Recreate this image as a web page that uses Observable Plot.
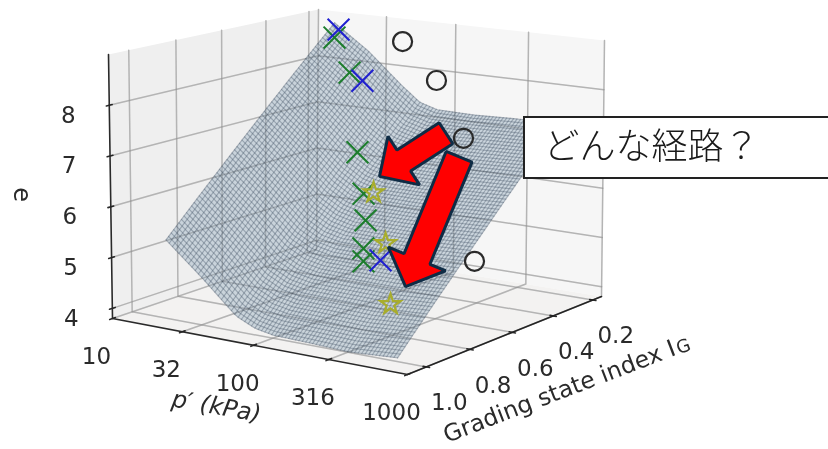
<!doctype html>
<html><head><meta charset="utf-8">
<style>html,body{margin:0;padding:0;background:#fff}svg{display:block;filter:blur(0.55px)}</style>
<script src="https://cdn.jsdelivr.net/npm/d3@7"></script>
<script src="https://cdn.jsdelivr.net/npm/@observablehq/plot@0.6"></script>
</head><body><div id="chart"></div>
<script>
// ---- values ----
const pTicks = [10, 32, 100, 316, 1000];
const pTickLabels = ["10", "32", "100", "316", "1000"];
const igTicks = [1.0, 0.8, 0.6, 0.4, 0.2];
const igTickLabels = ["1.0", "0.8", "0.6", "0.4", "0.2"];
const eTicks = [4, 5, 6, 7, 8];

const surfaceP = [18, 32, 56, 75, 100, 180, 320, 660];
const surfaceIG = [1.0, 0.8, 0.6, 0.4, 0.24];
const surfaceE = [
  [5.35, 4.74, 4.10, 3.93, 3.86, 3.84, 3.81, 3.87],
  [6.28, 5.67, 5.03, 4.84, 4.77, 4.75, 4.74, 4.79],
  [7.21, 6.60, 5.98, 5.76, 5.67, 5.66, 5.66, 5.70],
  [8.14, 7.55, 6.92, 6.67, 6.58, 6.57, 6.59, 6.62],
  [8.88, 8.36, 7.72, 7.42, 7.31, 7.30, 7.33, 7.35]
];

const greenP = 100;
const greenIG = [0.719, 0.652, 0.617, 0.589, 0.580, 0.590, 0.590];
const greenE = [9.32, 8.55, 6.91, 6.04, 5.49, 4.94, 4.68];
const blueP = 100;
const blueIG = [0.701, 0.594, 0.510];
const blueE = [9.46, 8.32, 4.58];
const starP = 100;
const starIG = [0.543, 0.486, 0.462];
const starE = [6.00, 4.89, 3.61];
const circleP = 178;
const circleIG = [0.578, 0.420, 0.289, 0.230];
const circleE = [9.18, 8.22, 6.88, 4.26];

const arrowP = 100;
const arrowTailIG = [0.198, 0.132];
const arrowTailE = [6.77, 6.19];
const arrowTipIG = [0.515, 0.390];
const arrowTipE = [6.29, 3.86];

const calloutText = "どんな経路？";

// ---- limits of the 3D box ----
const pLim = [10, 1000], igLim = [1.084, 0.155], eLim = [3.8, 9.0];

// camera: the eight box corners as they land on the page, with their depth
const W = 828, H = 449;
const floorC = [[112,318],[407,374],[601,296],[316,249]];
const topC = [[108,54],[404,95],[604,40],[318,9]];
const depth = [1.09, 1, 1.08, 1.17];
function proj(p, ig, e) {
  const U = (Math.log10(p) - 1) / 2, V = (igLim[0] - ig) / (igLim[0] - igLim[1]), Z = (e - eLim[0]) / (eLim[1] - eLim[0]);
  const bs = [(1-U)*(1-V), U*(1-V), U*V, (1-U)*V];
  let sx = 0, sy = 0, sw = 0;
  for (let i = 0; i < 4; i++) {
    const b0 = bs[i]*(1-Z)*depth[i], b1 = bs[i]*Z*depth[i];
    sx += b0*floorC[i][0] + b1*topC[i][0];
    sy += b0*floorC[i][1] + b1*topC[i][1];
    sw += b0 + b1;
  }
  return {x: sx/sw, y: sy/sw};
}

// surface lookup: bilinear between the table's entries, used to trace the wireframe
function surf(lp, ig) {
  const lps = surfaceP.map(Math.log10);
  let i = d3.bisectRight(lps, lp) - 1; i = Math.max(0, Math.min(lps.length - 2, i));
  let j = 0; while (j < surfaceIG.length - 2 && ig < surfaceIG[j+1]) j++;
  const s = (lp - lps[i])/(lps[i+1]-lps[i]), t = (surfaceIG[j]-ig)/(surfaceIG[j]-surfaceIG[j+1]);
  return (1-s)*(1-t)*surfaceE[j][i] + s*(1-t)*surfaceE[j][i+1] + (1-s)*t*surfaceE[j+1][i] + s*t*surfaceE[j+1][i+1];
}
const lpA = Math.log10(surfaceP[0]), lpB = Math.log10(surfaceP[surfaceP.length-1]);
const igA = surfaceIG[0], igB = surfaceIG[surfaceIG.length-1];
const nMesh = 68, nStep = 84;
const meshLines = [];
for (let k = 0; k <= nMesh; k++) {
  const f = k/nMesh;
  for (let q = 0; q <= nStep; q++) {
    const g = q/nStep;
    const a = proj(10**(lpA+(lpB-lpA)*f), igA+(igB-igA)*g, surf(lpA+(lpB-lpA)*f, igA+(igB-igA)*g));
    meshLines.push({...a, z: "p"+k});
    const b = proj(10**(lpA+(lpB-lpA)*g), igA+(igB-igA)*f, surf(lpA+(lpB-lpA)*g, igA+(igB-igA)*f));
    meshLines.push({...b, z: "g"+k});
  }
}
const outline = [];
const pushEdge = (fn) => { for (let q = 0; q <= nStep; q++) outline.push(fn(q/nStep)); };
const S = (f, g) => { const lp = lpA+(lpB-lpA)*f, ig = igA+(igB-igA)*g; return proj(10**lp, ig, surf(lp, ig)); };
pushEdge(g => S(g, 0)); pushEdge(g => S(1, g)); pushEdge(g => S(1-g, 1)); pushEdge(g => S(0, 1-g));

// box panes and grid
const pane = (pts, name) => pts.map(q => ({...q, z: name}));
const paneLeft = pane([proj(10,igLim[0],eLim[0]), proj(10,igLim[1],eLim[0]), proj(10,igLim[1],eLim[1]), proj(10,igLim[0],eLim[1])], "l");
const paneRight = pane([proj(10,igLim[1],eLim[0]), proj(1000,igLim[1],eLim[0]), proj(1000,igLim[1],eLim[1]), proj(10,igLim[1],eLim[1])], "r");
const paneFloor = pane([proj(10,igLim[0],eLim[0]), proj(1000,igLim[0],eLim[0]), proj(1000,igLim[1],eLim[0]), proj(10,igLim[1],eLim[0])], "f");

const grid = [];
const seg = (pts, id) => pts.forEach(q => grid.push({...q, z: id}));
pTicks.forEach(p => seg([proj(p,igLim[0],eLim[0]), proj(p,igLim[1],eLim[0]), proj(p,igLim[1],eLim[1])], "p"+p));
igTicks.forEach(g => seg([proj(1000,g,eLim[0]), proj(10,g,eLim[0]), proj(10,g,eLim[1])], "i"+g));
eTicks.forEach(e => seg([proj(10,igLim[0],e), proj(10,igLim[1],e), proj(1000,igLim[1],e)], "e"+e));

const axes = [];
const axSeg = (pts, id) => pts.forEach(q => axes.push({...q, z: id}));
axSeg([proj(10,igLim[0],eLim[1]), proj(10,igLim[0],eLim[0]), proj(1000,igLim[0],eLim[0]), proj(1000,igLim[1],eLim[0])], "frame");
pTicks.forEach(p => axSeg([proj(p,igLim[0]-0.012,eLim[0]), proj(p,igLim[0]+0.012,eLim[0])], "tp"+p));
igTicks.forEach(g => axSeg([proj(10**2.98,g,eLim[0]), proj(10**3.02,g,eLim[0])], "tg"+g));
eTicks.forEach(e => axSeg([proj(10,igLim[0]-0.012,e), proj(10,igLim[0]+0.012,e)], "te"+e));

// tick label tables
const pLabels = pTicks.map((p,i) => ({...proj(p,igLim[0],eLim[0]), t: pTickLabels[i]}));
const igLabels = igTicks.map((g,i) => ({...proj(1000,g,eLim[0]), t: igTickLabels[i]}));
const eLabels = eTicks.map(e => ({...proj(10,igLim[0],e), t: String(e)}));

const pts = (P, igs, es) => igs.map((g,i) => proj(P, g, es[i]));

// block arrow traced from tail to tip
function blockArrow(tail, tip, shaft, head, headLen, id) {
  const dx = tip.x-tail.x, dy = tip.y-tail.y, L = Math.hypot(dx,dy), ux = dx/L, uy = dy/L, nx = -uy, ny = ux;
  const bx = tip.x-ux*headLen, by = tip.y-uy*headLen;
  return [
    {x: tail.x+nx*shaft, y: tail.y+ny*shaft},
    {x: bx+nx*shaft, y: by+ny*shaft},
    {x: bx+nx*head, y: by+ny*head},
    {x: tip.x, y: tip.y},
    {x: bx-nx*head, y: by-ny*head},
    {x: bx-nx*shaft, y: by-ny*shaft},
    {x: tail.x-nx*shaft, y: tail.y-ny*shaft}
  ].map(q => ({...q, z: id}));
}
const arrow1 = blockArrow(proj(arrowP,arrowTailIG[0],arrowTailE[0]), proj(arrowP,arrowTipIG[0],arrowTipE[0]), 12.5, 29, 29, "a1");
const arrow2 = blockArrow(proj(arrowP,arrowTailIG[1],arrowTailE[1]), proj(arrowP,arrowTipIG[1],arrowTipE[1]), 14, 31, 30, "a2");

const font = "'DejaVu Sans'";
const ink = "#2a2a2a";
const label = (t, x, y, o) => Plot.text([t], {frameAnchor:"top-left", dx:x, dy:y, lineAnchor:"middle", fontFamily:font, fill:ink, ...o});
const chart = Plot.plot({
  width: W, height: H, margin: 0,
  x: {domain: [0, W], axis: null},
  y: {domain: [H, 0], axis: null},
  style: {background: "#fff"},
  marks: [
    Plot.line(paneLeft, {x:"x", y:"y", z:"z", fill:"#efefef", stroke:"none", curve:"linear-closed"}),
    Plot.line(paneRight, {x:"x", y:"y", z:"z", fill:"#f6f6f6", stroke:"none", curve:"linear-closed"}),
    Plot.line(paneFloor, {x:"x", y:"y", z:"z", fill:"#f3f2f1", stroke:"none", curve:"linear-closed"}),
    Plot.line(grid, {x:"x", y:"y", z:"z", stroke:"#cfcfcf", strokeWidth:1.5, curve:"linear"}),
    Plot.line(axes, {x:"x", y:"y", z:"z", stroke:ink, strokeWidth:1.6, curve:"linear"}),

    Plot.line(outline, {x:"x", y:"y", fill:"#b4c3d0", fillOpacity:0.65, stroke:"none", curve:"linear-closed"}),
    Plot.line(meshLines, {x:"x", y:"y", z:"z", stroke:"#46586a", strokeOpacity:0.38, strokeWidth:1.15, curve:"linear"}),
    Plot.line(grid, {x:"x", y:"y", z:"z", stroke:"#000", strokeOpacity:0.13, strokeWidth:1.5, curve:"linear"}),

    Plot.dot(pts(circleP,circleIG,circleE), {x:"x", y:"y", r:9.5, stroke:ink, strokeWidth:2.2, fill:"none"}),
    Plot.dot(pts(greenP,greenIG,greenE), {x:"x", y:"y", symbol:"times", r:10, stroke:"#1c7d2c", strokeWidth:2}),
    Plot.dot(pts(blueP,blueIG,blueE), {x:"x", y:"y", symbol:"times", r:10, stroke:"#2020d0", strokeWidth:2}),
    Plot.dot(pts(starP,starIG,starE), {x:"x", y:"y", symbol:"star", r:6.3, stroke:"#a8ad2c", strokeWidth:2.2, fill:"none"}),

    Plot.line(arrow2, {x:"x", y:"y", z:"z", fill:"#ff0000", stroke:"#0f2c45", strokeWidth:3, strokeLinejoin:"miter", curve:"linear-closed"}),
    Plot.line(arrow1, {x:"x", y:"y", z:"z", fill:"#ff0000", stroke:"#0f2c45", strokeWidth:3, strokeLinejoin:"miter", curve:"linear-closed"}),

    Plot.text(pLabels, {x:"x", y:"y", text:"t", dx:-16, dy:38, lineAnchor:"middle", fontSize:23, fontFamily:font, fill:ink}),
    Plot.text(igLabels, {x:"x", y:"y", text:"t", dx:23, dy:36, lineAnchor:"middle", fontSize:23, fontFamily:font, fill:ink}),
    Plot.text(eLabels, {x:"x", y:"y", text:"t", dx:-41, dy:10, lineAnchor:"middle", fontSize:23, fontFamily:font, fill:ink}),

    label("e", 21, 194, {rotate:90, fontSize:24, textAnchor:"middle"}),
    label("p′ (kPa)", 216, 406, {rotate:10, fontSize:24, fontStyle:"italic", textAnchor:"middle"}),
    label("Grading state index I", 674, 347, {rotate:-21, fontSize:23.5, textAnchor:"end"}),
    label("G", 683, 346, {rotate:-21, fontSize:18, textAnchor:"middle"}),

    Plot.rect([0], {x1:()=>524, x2:()=>840, y1:()=>117, y2:()=>178, fill:"#fff", stroke:"#222", strokeWidth:2}),
    Plot.text([calloutText], {frameAnchor:"top-left", dx:543, dy:147, lineAnchor:"middle", textAnchor:"start", fontSize:36, fontWeight:300, fontFamily:"'Noto Sans CJK JP'", fill:"#1a1a1a"})
  ]
});
document.getElementById("chart").append(chart);
</script></body></html>
